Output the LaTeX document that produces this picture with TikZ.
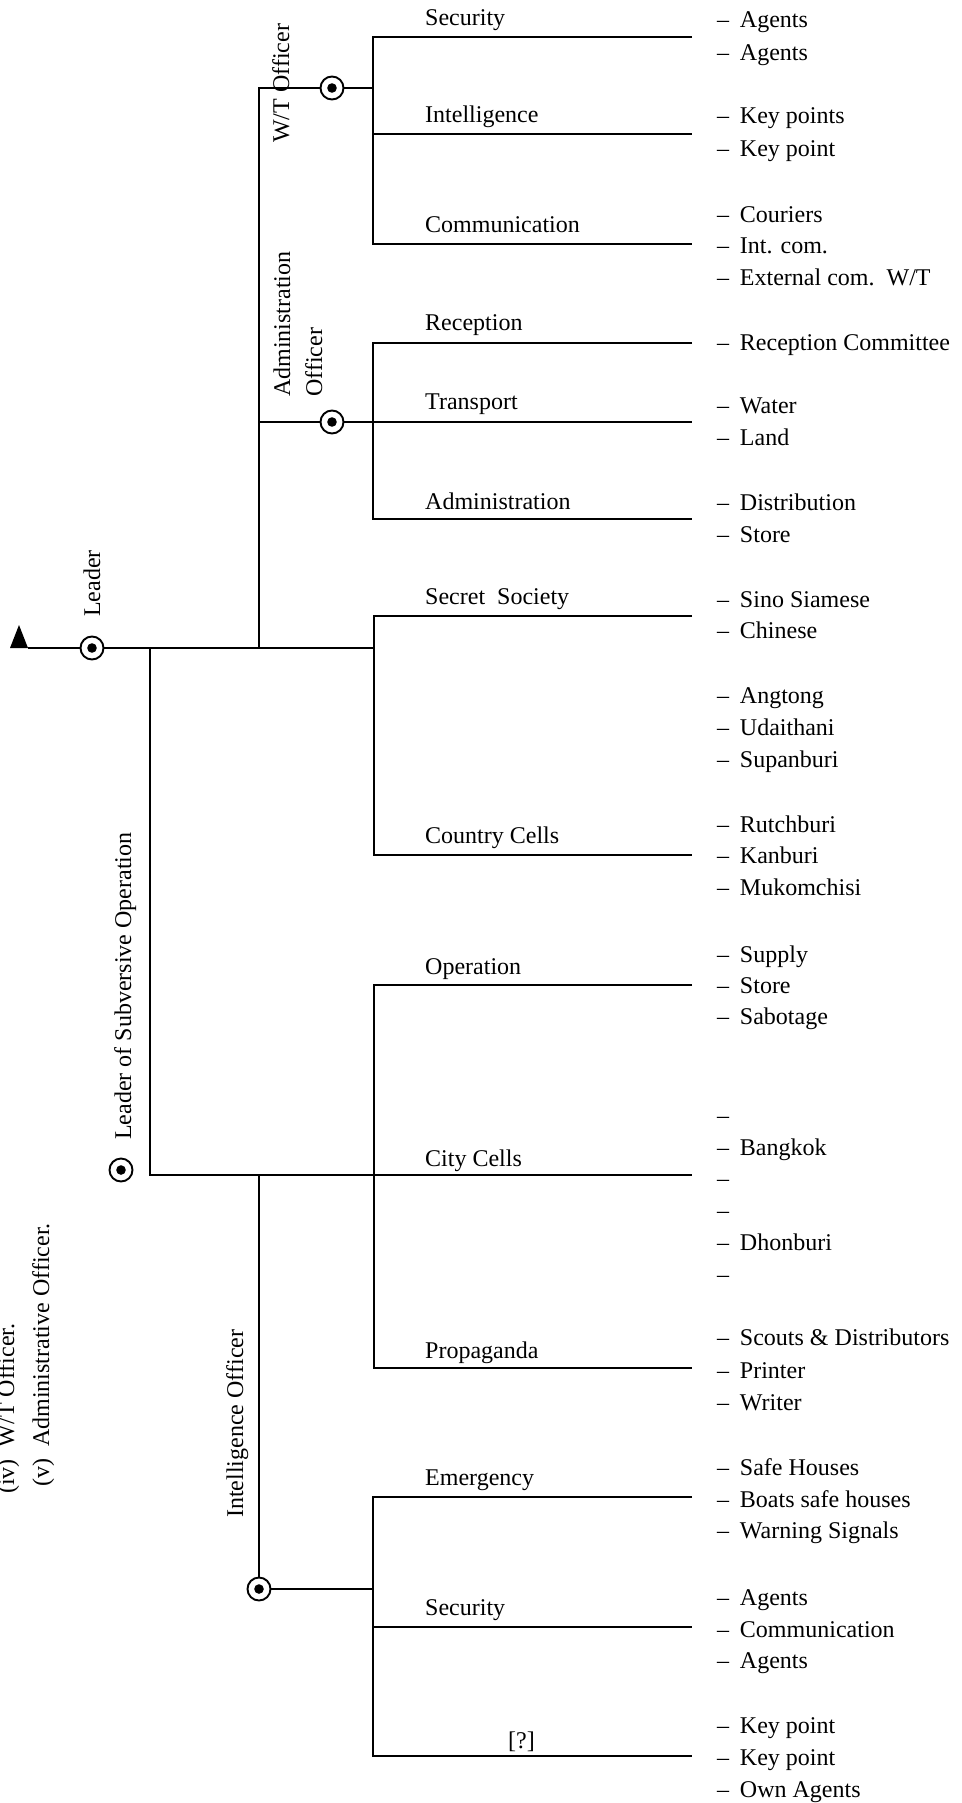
\documentclass[tikz,border=0pt]{standalone}
\usepackage{fontspec}
\setmainfont{Liberation Serif}
\newcommand\itemdash{–\hspace{0.45em}}
\begin{document}
\begin{tikzpicture}[x=1bp,y=-1bp,
  font=\fontsize{24bp}{29bp}\selectfont,
  wire/.style={line width=1.6bp},
  post/.style={circle,draw,line width=1.9bp,fill=white,minimum size=23bp,inner sep=0pt},
  lbl/.style={anchor=base west,inner sep=0pt},
  vlbl/.style={rotate=90,anchor=base west,inner sep=0pt},
  itm/.style={anchor=base west,inner sep=0pt}]
\fill[white] (0,0) rectangle (961,1803);
\useasboundingbox (0,0) rectangle (961,1803);

% ---- officer posts ----
\node[post] (leader) at (92,648) {};
\node[post] (wt) at (332,88) {};
\node[post] (adm) at (332,422) {};
\node[post] (lso) at (121,1170) {};
\node[post] (int) at (259,1589) {};
\foreach \p in {leader,wt,adm,lso,int}
  \fill (\p.center) circle[radius=4.8bp];

% ---- junctions and line ends ----
\coordinate (top) at (28,648);
\coordinate (j1) at (150,648);
\coordinate (j2) at (259,648);
\coordinate (j3) at (374,648);
\coordinate (wt0) at (259,88);
\coordinate (wt1) at (373,88);
\coordinate (ad0) at (259,422);
\coordinate (j4) at (150,1175);
\coordinate (j5) at (259,1175);
\coordinate (ia) at (373,1589);

\coordinate (sec1a) at (373,37);   \coordinate (sec1b) at (692,37);
\coordinate (int1a) at (373,134);  \coordinate (int1b) at (692,134);
\coordinate (com1a) at (373,244);  \coordinate (com1b) at (692,244);
\coordinate (rec1a) at (373,343);  \coordinate (rec1b) at (692,343);
\coordinate (tra1b) at (692,422);
\coordinate (adm1a) at (373,519);  \coordinate (adm1b) at (692,519);
\coordinate (soc1a) at (374,616);  \coordinate (soc1b) at (692,616);
\coordinate (cou1a) at (374,855);  \coordinate (cou1b) at (692,855);
\coordinate (ope1a) at (374,985);  \coordinate (ope1b) at (692,985);
\coordinate (cit1b) at (692,1175);
\coordinate (pro1a) at (374,1368); \coordinate (pro1b) at (692,1368);
\coordinate (eme1a) at (373,1497); \coordinate (eme1b) at (692,1497);
\coordinate (sec2a) at (373,1627); \coordinate (sec2b) at (692,1627);
\coordinate (unk1a) at (373,1756); \coordinate (unk1b) at (692,1756);

% ---- superior marker ----
\fill (10,648) -- (19,625) -- (28,648) -- cycle;

% ---- trunk ----
\draw[wire] (top) -- (leader);
\draw[wire] (leader) -- (j3);
\draw[wire] (j2) -- (wt0) -- (wt);
\draw[wire] (wt) -- (wt1);
\draw[wire] (ad0) -- (adm);
\draw[wire] (adm) -- (tra1b);
\draw[wire] (j1) -- (j4) -- (cit1b);
\draw[wire] (j5) -- (int);
\draw[wire] (int) -- (ia);

% ---- section branches ----
\draw[wire] (sec1b) -- (sec1a) -- (com1a) -- (com1b);
\draw[wire] (int1a) -- (int1b);
\draw[wire] (rec1b) -- (rec1a) -- (adm1a) -- (adm1b);
\draw[wire] (soc1b) -- (soc1a) -- (cou1a) -- (cou1b);
\draw[wire] (ope1b) -- (ope1a) -- (pro1a) -- (pro1b);
\draw[wire] (eme1b) -- (eme1a) -- (unk1a) -- (unk1b);
\draw[wire] (sec2a) -- (sec2b);

% ---- rotated titles ----
\node[vlbl] (wtl) at (289,143) {W/T Officer};
\node[vlbl] (adl1) at (290,397) {Administration};
\node[vlbl] (adl2) at (322,397) {Officer};
\node[vlbl] (ldl) at (100,617) {Leader};
\node[vlbl] (lsol) at (131,1140) {Leader of Subversive Operation};
\node[vlbl] (intl) at (243,1518) {Intelligence Officer};
\node[vlbl] (note4) at (14,1494) {(iv)\hspace{0.5em}W/T Officer.};
\node[vlbl] (note5) at (49,1487) {(v)\hspace{0.5em}Administrative Officer.};

% ---- section titles ----
\node[lbl] (t1) at (425,25) {Security};
\node[lbl] (t2) at (425,122) {Intelligence};
\node[lbl] (t3) at (425,232) {Communication};
\node[lbl] (t4) at (425,330) {Reception};
\node[lbl] (t5) at (425,409) {Transport};
\node[lbl] (t6) at (425,509) {Administration};
\node[lbl] (t7) at (425,604) {Secret~~Society};
\node[lbl] (t8) at (425,843) {Country Cells};
\node[lbl] (t9) at (425,974) {Operation};
\node[lbl] (t10) at (425,1166) {City Cells};
\node[lbl] (t11) at (425,1358) {Propaganda};
\node[lbl] (t12) at (425,1485) {Emergency};
\node[lbl] (t13) at (425,1615) {Security};
\node[lbl] (t14) at (508,1748) {[?]};

% ---- sub-units ----
\foreach \yy/\tt [count=\n] in {
  27/{\itemdash Agents},
  60/{\itemdash Agents},
  123/{\itemdash Key points},
  156/{\itemdash Key point},
  222/{\itemdash Couriers},
  253/{\itemdash Int. com.},
  285/{\itemdash External com.~~W/T},
  350/{\itemdash Reception Committee},
  413/{\itemdash Water},
  445/{\itemdash Land},
  510/{\itemdash Distribution},
  542/{\itemdash Store},
  607/{\itemdash Sino Siamese},
  638/{\itemdash Chinese},
  703/{\itemdash Angtong},
  735/{\itemdash Udaithani},
  767/{\itemdash Supanburi},
  832/{\itemdash Rutchburi},
  863/{\itemdash Kanburi},
  895/{\itemdash Mukomchisi},
  962/{\itemdash Supply},
  993/{\itemdash Store},
  1024/{\itemdash Sabotage},
  1123/{–},
  1155/{\itemdash Bangkok},
  1186/{–},
  1218/{–},
  1250/{\itemdash Dhonburi},
  1282/{–},
  1345/{\itemdash Scouts \& Distributors},
  1378/{\itemdash Printer},
  1410/{\itemdash Writer},
  1475/{\itemdash Safe Houses},
  1507/{\itemdash Boats safe houses},
  1538/{\itemdash Warning Signals},
  1605/{\itemdash Agents},
  1637/{\itemdash Communication},
  1668/{\itemdash Agents},
  1733/{\itemdash Key point},
  1765/{\itemdash Key point},
  1797/{\itemdash Own Agents}}
  {\node[itm] (u\n) at (717,\yy) {\tt};}
\end{tikzpicture}
\end{document}
